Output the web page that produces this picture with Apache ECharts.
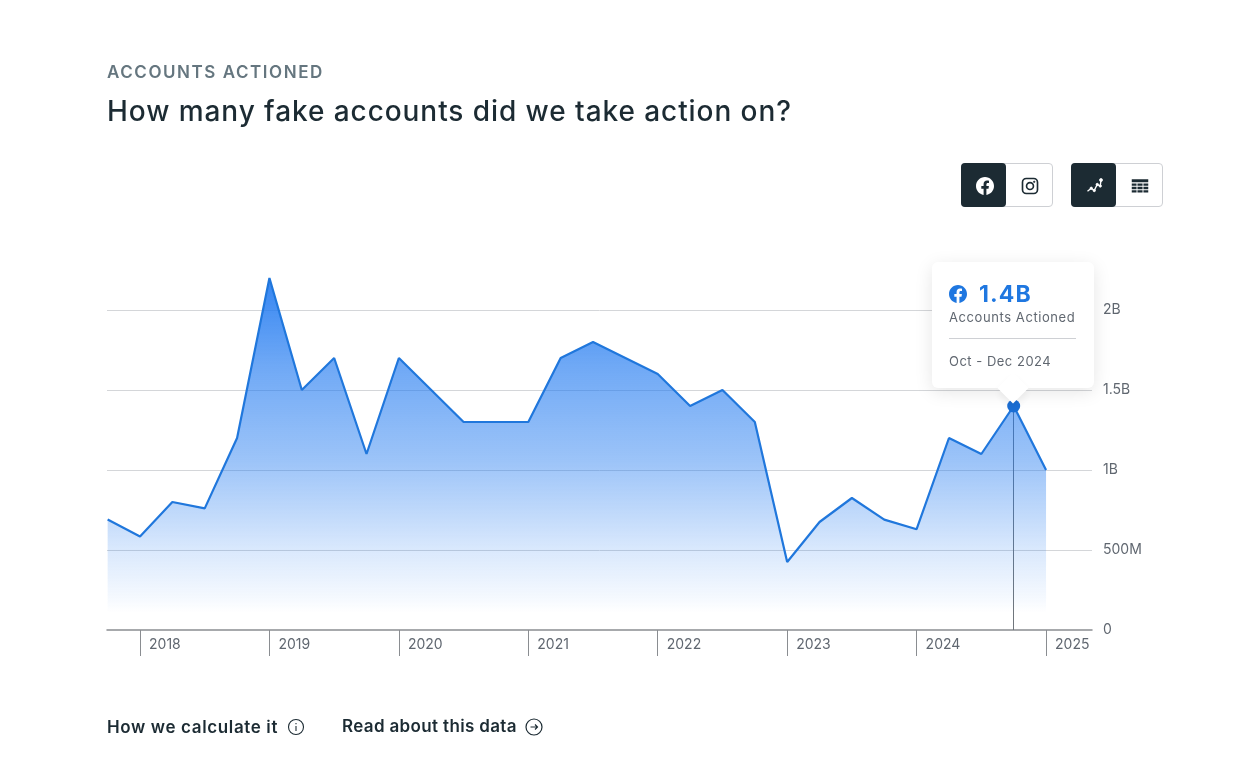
<!DOCTYPE html>
<html>
<head>
<meta charset="utf-8">
<title>Accounts actioned</title>
<script src="https://cdn.jsdelivr.net/npm/echarts@6/dist/echarts.min.js"></script>
<style>
  html, body { margin: 0; padding: 0; background: #fff; }
  body { width: 1253px; height: 781px; position: relative; overflow: hidden; font-family: Inter, "Noto Sans", sans-serif; color: #1c2b33; }
  #chart { position: absolute; left: 0; top: 0; width: 1253px; height: 781px; }
  .abs { position: absolute; white-space: nowrap; }
  .kicker { left: 107px; top: 61px; font-size: 17px; line-height: 22px; font-weight: 600; letter-spacing: 1.55px; color: #65767f; }
  .title { left: 107px; top: 92px; font-size: 28px; line-height: 38px; font-weight: 500; letter-spacing: 0.93px; }
  .foot { top: 715px; font-size: 17px; line-height: 24px; font-weight: 600; }
  .toggle { position: absolute; top: 163px; width: 90px; height: 42px; border: 1px solid #ced0d4; border-radius: 4px; background: #fff; }
  .toggle .on { position: absolute; left: -1px; top: -1px; width: 45px; height: 44px; background: #1c2b33; border-radius: 4px; }
  .toggle svg { position: absolute; top: 13px; width: 18px; height: 18px; }
  .tip { position: relative; width: 162px; height: 126px; background: #fff; border-radius: 6px; box-shadow: 0 4px 18px rgba(0,0,0,.10); font-family: Inter, "Noto Sans", sans-serif; }
  .tip .arrow { position: absolute; left: 70px; top: 115px; width: 22px; height: 22px; background: #fff; transform: rotate(45deg); box-shadow: 4px 4px 8px rgba(0,0,0,.06); }
  .tip .val { position: absolute; left: 47px; top: 18px; font-size: 23px; line-height: 28px; font-weight: 700; color: #1f77e0; letter-spacing: 1.1px; }
  .tip .lbl { position: absolute; left: 17px; top: 46px; font-size: 13px; line-height: 18px; color: #606770; letter-spacing: .58px; white-space: nowrap; }
  .tip .sep { position: absolute; left: 17px; top: 76px; width: 127px; height: 1px; background: #ced0d4; }
  .tip .date { position: absolute; left: 17px; top: 90px; font-size: 13px; line-height: 18px; color: #606770; letter-spacing: .5px; white-space: nowrap; }
  .tip svg { position: absolute; left: 17px; top: 23px; width: 18px; height: 18px; }
</style>
</head>
<body>
<div id="chart"></div>

<div class="abs kicker">ACCOUNTS ACTIONED</div>
<div class="abs title">How many fake accounts did we take action on?</div>

<div class="toggle" style="left:961px">
  <div class="on"></div>
  <svg style="left:14px" viewBox="0 0 24 24"><path fill="#fff" d="M24 12.073c0-6.627-5.373-12-12-12s-12 5.373-12 12c0 5.99 4.388 10.954 10.125 11.854v-8.385H7.078v-3.47h3.047V9.43c0-3.007 1.792-4.669 4.533-4.669 1.312 0 2.686.235 2.686.235v2.953H15.83c-1.491 0-1.956.925-1.956 1.874v2.25h3.328l-.532 3.47h-2.796v8.385C19.612 23.027 24 18.062 24 12.073z"/></svg>
  <svg style="left:59px" viewBox="0 0 24 24" fill="none" stroke="#1c2b33" stroke-width="2.2"><rect x="2" y="2" width="20" height="20" rx="5"/><circle cx="12" cy="12" r="4.6"/><circle cx="17.6" cy="6.4" r="1" fill="#1c2b33" stroke-width="1"/></svg>
</div>
<div class="toggle" style="left:1071px">
  <div class="on"></div>
  <svg style="left:14px" viewBox="0 0 24 24" fill="#fff" stroke="#fff"><path fill="none" stroke-width="1.8" d="M2 19l5-4 4 3 4-8 4 2 1-8"/><circle cx="7" cy="15" r="1.6"/><circle cx="11" cy="18" r="1.6"/><circle cx="15" cy="10" r="1.6"/><circle cx="19" cy="12" r="1.6"/><circle cx="20" cy="4" r="2"/></svg>
  <svg style="left:59px" viewBox="0 0 24 24" fill="#1c2b33"><path d="M1 3h22v4H1zM1 8.5h6.4v3.2H1zM8.6 8.5h6.8v3.2H8.6zM16.6 8.5H23v3.2h-6.4zM1 13h6.4v3.2H1zM8.6 13h6.8v3.2H8.6zM16.6 13H23v3.2h-6.4zM1 17.5h6.4v3.2H1zM8.6 17.5h6.8v3.2H8.6zM16.6 17.5H23v3.2h-6.4z"/></svg>
</div>

<div class="abs foot" style="left:107px;letter-spacing:.63px">How we calculate it</div>
<svg class="abs" style="left:287px;top:718px" width="18" height="18" viewBox="0 0 18 18" fill="none" stroke="#1c2b33" stroke-width="1.1"><circle cx="9" cy="9" r="7.5"/><path d="M9 8v5"/><path d="M9 5v1.2"/></svg>
<div class="abs foot" style="left:342px;top:714px;letter-spacing:.35px">Read about this data</div>
<svg class="abs" style="left:525px;top:718px" width="18" height="18" viewBox="0 0 18 18" fill="none" stroke="#1c2b33" stroke-width="1.2"><circle cx="9" cy="9" r="8"/><path d="M5.5 9h7M10 6.5L12.5 9 10 11.5"/></svg>

<script>
  // 数据：每季度一个点，从 2017 年第四季度开始（单位：十亿）
  var quarters = [
    "Oct - Dec 2017",
    "Jan - Mar 2018", "Apr - Jun 2018", "Jul - Sep 2018", "Oct - Dec 2018",
    "Jan - Mar 2019", "Apr - Jun 2019", "Jul - Sep 2019", "Oct - Dec 2019",
    "Jan - Mar 2020", "Apr - Jun 2020", "Jul - Sep 2020", "Oct - Dec 2020",
    "Jan - Mar 2021", "Apr - Jun 2021", "Jul - Sep 2021", "Oct - Dec 2021",
    "Jan - Mar 2022", "Apr - Jun 2022", "Jul - Sep 2022", "Oct - Dec 2022",
    "Jan - Mar 2023", "Apr - Jun 2023", "Jul - Sep 2023", "Oct - Dec 2023",
    "Jan - Mar 2024", "Apr - Jun 2024", "Jul - Sep 2024", "Oct - Dec 2024",
    "Jan - Mar 2025"
  ];
  var accounts = [
    0.69,
    0.585, 0.8, 0.76, 1.2,
    2.2, 1.5, 1.7, 1.1,
    1.7, 1.5, 1.3, 1.3,
    1.3, 1.7, 1.8, 1.7,
    1.6, 1.4, 1.5, 1.3,
    0.425, 0.675, 0.825, 0.69,
    0.63, 1.2, 1.1, 1.4,
    1.0
  ];
  var yearTicks = [1, 5, 9, 13, 17, 21, 25, 29];
  var yearLabels = ["2018", "2019", "2020", "2021", "2022", "2023", "2024", "2025"];
  var yTickLabels = { 0: "0", 0.5: "500M", 1: "1B", 1.5: "1.5B", 2: "2B" };
  var activeIndex = 28;

  var fbIcon = '<svg viewBox="0 0 24 24"><path fill="#1f77e0" d="M24 12.073c0-6.627-5.373-12-12-12s-12 5.373-12 12c0 5.99 4.388 10.954 10.125 11.854v-8.385H7.078v-3.47h3.047V9.43c0-3.007 1.792-4.669 4.533-4.669 1.312 0 2.686.235 2.686.235v2.953H15.83c-1.491 0-1.956.925-1.956 1.874v2.25h3.328l-.532 3.47h-2.796v8.385C19.612 23.027 24 18.062 24 12.073z"/></svg>';

  var myChart = echarts.init(document.getElementById("chart"));

  var seriesData = accounts.map(function(v, i) { return [i, v]; });

  var option = {
    animation: false,
    textStyle: { fontFamily: "Inter, 'Noto Sans', sans-serif" },
    grid: { left: 107, right: 161, top: 230, bottom: 151 },
    tooltip: {
      trigger: "item",
      alwaysShowContent: true,
      transitionDuration: 0,
      padding: 0,
      borderWidth: 0,
      backgroundColor: "transparent",
      extraCssText: "box-shadow:none;",
      position: function(point) {
        var p = myChart.convertToPixel({ seriesIndex: 0 }, seriesData[activeIndex]);
        return [p[0] - 82, p[1] - 144];
      },
      formatter: function(params) {
        var i = params.data[0];
        var val = params.data[1];
        return '<div class="tip"><div class="arrow"></div>' + fbIcon +
          '<div class="val">' + val + 'B</div>' +
          '<div class="lbl">Accounts Actioned</div><div class="sep"></div>' +
          '<div class="date">' + quarters[i] + '</div></div>';
      }
    },
    xAxis: {
      type: "value",
      min: -0.02,
      max: 30.42,
      splitLine: { show: false },
      axisLine: { show: true, onZero: false, lineStyle: { color: "#8a8d91", width: 1.5 } },
      axisTick: { show: true, customValues: yearTicks, length: 26, lineStyle: { color: "#8a8d91", width: 1 } },
      axisLabel: {
        show: true,
        customValues: yearTicks,
        align: "left",
        margin: 8,
        padding: [0, 0, 0, 9],
        fontSize: 14,
        color: "#606770",
        formatter: function(v) { return yearLabels[yearTicks.indexOf(v)]; }
      }
    },
    yAxis: {
      type: "value",
      position: "right",
      min: 0,
      max: 2.5,
      interval: 0.5,
      axisLine: { show: false },
      axisTick: { show: false },
      splitLine: { show: true, showMaxLine: false, showMinLine: false, lineStyle: { color: "#d4d6d9", width: 1 } },
      axisLabel: {
        margin: 11,
        padding: [3, 0, 0, 0],
        fontSize: 14,
        color: "#606770",
        showMaxLabel: false,
        formatter: function(v) { return yTickLabels[v]; }
      }
    },
    series: [
      {
        type: "line",
        data: seriesData,
        showSymbol: false,
        smooth: false,
        lineStyle: { color: "#2077dc", width: 2.2 },
        areaStyle: {
          opacity: 1,
          color: {
            type: "linear", x: 0, y: 0, x2: 0, y2: 1,
            colorStops: [
              { offset: 0, color: "rgba(30,120,240,0.9)" },
              { offset: 0.25, color: "rgba(30,120,240,0.64)" },
              { offset: 0.52, color: "rgba(30,120,240,0.44)" },
              { offset: 0.77, color: "rgba(30,120,240,0.17)" },
              { offset: 0.915, color: "rgba(30,120,240,0.04)" },
              { offset: 0.95, color: "rgba(30,120,240,0)" },
              { offset: 1, color: "rgba(30,120,240,0)" }
            ]
          }
        },
        markLine: {
          silent: true,
          symbol: "none",
          z: 1,
          label: { show: false },
          lineStyle: { color: "#70767c", width: 1, type: "solid" },
          data: [[
            { coord: [activeIndex, accounts[activeIndex]] },
            { coord: [activeIndex, 0] }
          ]]
        },
        z: 3
      },
      {
        type: "scatter",
        data: [seriesData[activeIndex]],
        symbol: "circle",
        symbolSize: 13,
        itemStyle: { color: "#1b6fd6", opacity: 1 },
        z: 6
      }
    ]
  };
  myChart.setOption(option);
  myChart.dispatchAction({ type: "showTip", seriesIndex: 1, dataIndex: 0 });

  window.addEventListener("resize", function() {
    myChart.resize();
  });
</script>
</body>
</html>
